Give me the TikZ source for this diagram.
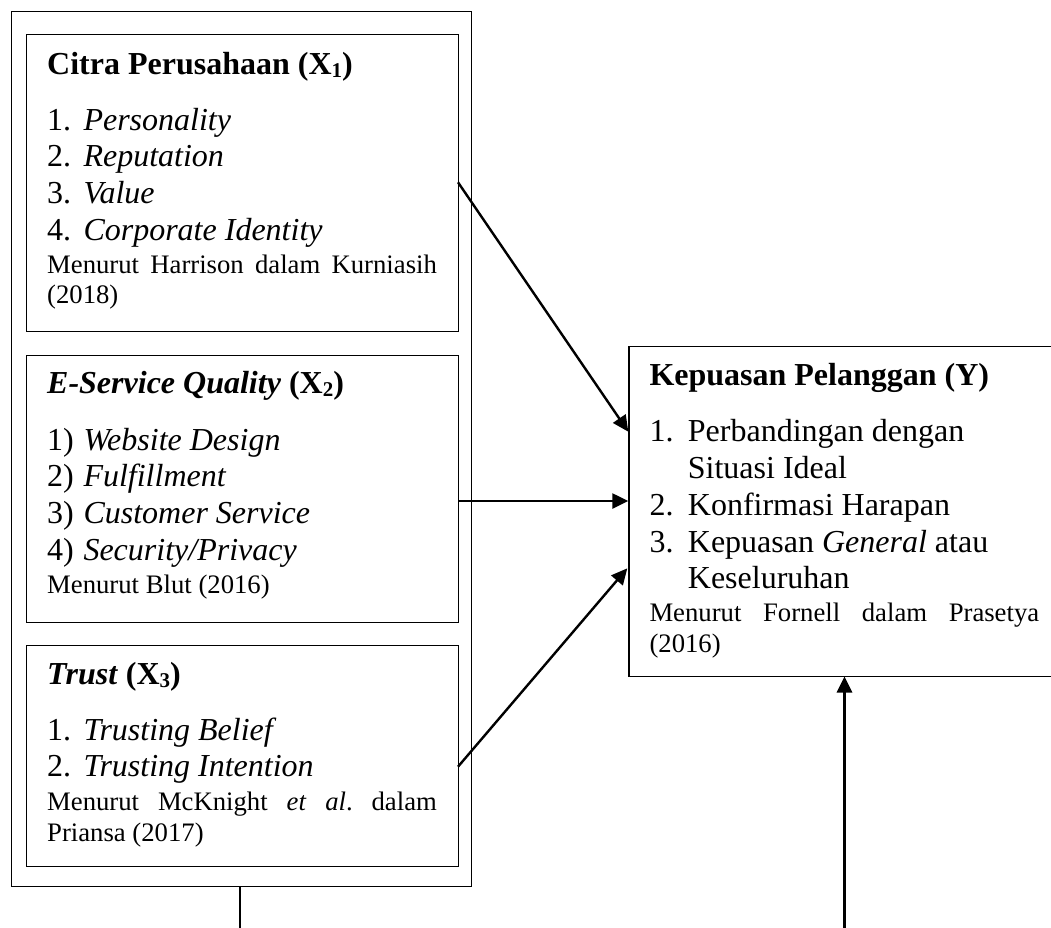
\documentclass[tikz,border=0pt]{standalone}
\usepackage{fontspec}
\setmainfont{Liberation Serif}
\usetikzlibrary{arrows.meta}
\newcommand{\subx}[1]{\raisebox{-0.12em}{\fontsize{21}{21}\selectfont #1}}
\begin{document}
\begin{tikzpicture}[x=1pt,y=-1pt,
  box/.style={draw, line width=1.3pt, inner sep=0pt, anchor=north west},
  txt/.style={anchor=base west, inner sep=0pt, font=\fontsize{32}{36.8}\selectfont},
  src/.style={anchor=base west, inner sep=0pt, font=\fontsize{26.7}{30.7}\selectfont},
  arr/.style={line width=2.4pt, -{Triangle[length=16pt,width=15pt]}},
  plain/.style={line width=1.8pt}]
\useasboundingbox (0,0) rectangle (1051,927);
\clip (0,0) rectangle (1051,927);
% boxes
\node[box, minimum width=460.3pt, minimum height=875.3pt] (outer) at (10.7,10.7) {};
\node[box, minimum width=432pt, minimum height=297.3pt] (b1) at (25.7,33.7) {};
\node[box, minimum width=432pt, minimum height=267pt] (b2) at (25.7,354.7) {};
\node[box, minimum width=432pt, minimum height=221.3pt] (b3) at (25.7,644.7) {};
\node[box, minimum width=440pt, minimum height=329.7pt] (yb) at (628.3,346) {};
% box 1
\node[txt] (t1) at (47,74) {\textbf{Citra Perusahaan (X\subx{1})}};
\node[txt] (n11) at (47,130) {1.};
\node[txt] (i11) at (83.3,130) {\textit{Personality}};
\node[txt] (n12) at (47,166.8) {2.};
\node[txt] (i12) at (83.3,166.8) {\textit{Reputation}};
\node[txt] (n13) at (47,203.6) {3.};
\node[txt] (i13) at (83.3,203.6) {\textit{Value}};
\node[txt] (n14) at (47,240.4) {4.};
\node[txt] (i14) at (83.3,240.4) {\textit{Corporate Identity}};
\node[src] (s11) at (47,273) {\hbox to 389.7pt{Menurut\hfill Harrison\hfill dalam\hfill Kurniasih}};
\node[src] (s12) at (47,303.5) {(2018)};
% box 2
\node[txt] (t2) at (47,393) {\textbf{\textit{E-Service Quality} (X\subx{2})}};
\node[txt] (n21) at (47,450) {1)};
\node[txt] (i21) at (83.3,450) {\textit{Website Design}};
\node[txt] (n22) at (47,486.8) {2)};
\node[txt] (i22) at (83.3,486.8) {\textit{Fulfillment}};
\node[txt] (n23) at (47,523.6) {3)};
\node[txt] (i23) at (83.3,523.6) {\textit{Customer Service}};
\node[txt] (n24) at (47,560.4) {4)};
\node[txt] (i24) at (83.3,560.4) {\textit{Security/Privacy}};
\node[src] (s21) at (47,593.3) {Menurut Blut (2016)};
% box 3
\node[txt] (t3) at (47,684) {\textbf{\textit{Trust} (X\subx{3})}};
\node[txt] (n31) at (47,740) {1.};
\node[txt] (i31) at (83.3,740) {\textit{Trusting Belief}};
\node[txt] (n32) at (47,776.8) {2.};
\node[txt] (i32) at (83.3,776.8) {\textit{Trusting Intention}};
\node[src] (s31) at (47,810) {\hbox to 389.7pt{Menurut\hfill McKnight\hfill \textit{et}\hfill \textit{al}.\hfill dalam}};
\node[src] (s32) at (47,841) {Priansa (2017)};
% right box
\node[txt] (ty) at (649.3,385) {\textbf{Kepuasan Pelanggan (Y)}};
\node[txt] (ny1) at (649.3,441.7) {1.};
\node[txt] (iy1) at (687.7,441.7) {Perbandingan dengan};
\node[txt] (iy1b) at (687.7,478.5) {Situasi Ideal};
\node[txt] (ny2) at (649.3,515.3) {2.};
\node[txt] (iy2) at (687.7,515.3) {Konfirmasi Harapan};
\node[txt] (ny3) at (649.3,552.1) {3.};
\node[txt] (iy3) at (687.7,552.1) {Kepuasan \textit{General} atau};
\node[txt] (iy3b) at (687.7,588.9) {Keseluruhan};
\node[src] (sy1) at (649.3,621.7) {\hbox to 389.7pt{Menurut\hfill Fornell\hfill dalam\hfill Prasetya}};
\node[src] (sy2) at (649.3,652) {(2016)};
% connectors
\coordinate (a1s) at (458,182.3);
\coordinate (a1e) at (628.3,431.7);
\coordinate (a2s) at (458,501);
\coordinate (a2e) at (628.3,501);
\coordinate (a3s) at (458,766.7);
\coordinate (a3e) at (627.3,568.3);
\coordinate (ls) at (240,886);
\coordinate (le) at (240,928);
\coordinate (bs) at (844.5,928);
\coordinate (be) at (844.5,676.5);
\draw[arr] (a1s) -- (a1e);
\draw[arr] (a2s) -- (a2e);
\draw[arr] (a3s) -- (a3e);
\draw[plain] (ls) -- (le);
\draw[arr, line width=2.8pt] (bs) -- (be);
\end{tikzpicture}
\end{document}
